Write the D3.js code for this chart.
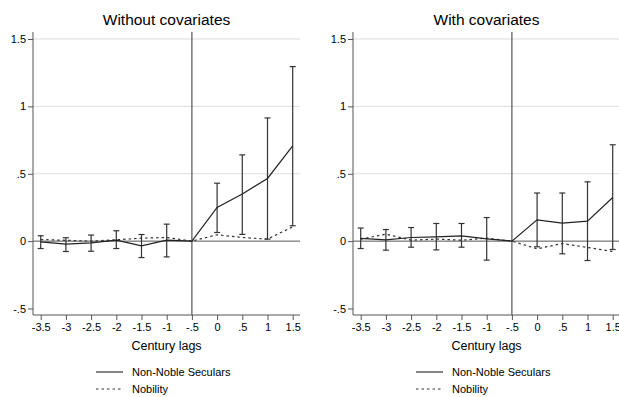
<!DOCTYPE html>
<html><head><meta charset="utf-8">
<script src="https://cdn.jsdelivr.net/npm/d3@7"></script>
<style>body{margin:0;background:#fff}svg{display:block}text{font-family:"Liberation Sans",Arial,sans-serif;fill:#000}</style>
</head><body>
<svg id="c" width="619" height="397"></svg>
<script>
const lags = [-3.5,-3,-2.5,-2,-1.5,-1,-0.5,0,0.5,1,1.5];
const xTicks = [-3.5,-3,-2.5,-2,-1.5,-1,-0.5,0,0.5,1,1.5];
const xTickLabels = ["-3.5","-3","-2.5","-2","-1.5","-1","-.5","0",".5","1","1.5"];
const yTicks = [-0.5,0,0.5,1,1.5];
const yTickLabels = ["-.5","0",".5","1","1.5"];
const titles = ["Without covariates","With covariates"];
const seriesNames = ["Non-Noble Seculars","Nobility"];
// Without covariates
const secNoCov   = [-0.005,-0.022,-0.013,0.007,-0.035,0.007,0,0.25,0.35,0.465,0.707];
const secNoCovLo = [-0.055,-0.077,-0.075,-0.055,-0.122,-0.117,null,0.064,0.05,0.015,0.114];
const secNoCovHi = [0.04,0.025,0.045,0.077,0.049,0.126,null,0.43,0.64,0.914,1.295];
const nobNoCov   = [0.012,0.006,0.0,0.01,0.022,0.027,0,0.047,0.027,0.015,0.106];
// With covariates
const secCov   = [0.02,0.01,0.027,0.032,0.039,0.017,0,0.158,0.134,0.148,0.324];
const secCovLo = [-0.055,-0.067,-0.045,-0.065,-0.045,-0.141,null,-0.042,-0.094,-0.144,-0.062];
const secCovHi = [0.097,0.086,0.101,0.131,0.131,0.175,null,0.357,0.357,0.44,0.715];
const nobCov   = [0.015,0.052,0.007,0.015,0.007,0.022,0,-0.057,-0.018,-0.047,-0.077];

const panels = [
  {title:titles[0], sec:secNoCov, lo:secNoCovLo, hi:secNoCovHi, nob:nobNoCov, off:0},
  {title:titles[1], sec:secCov, lo:secCovLo, hi:secCovHi, nob:nobCov, off:320}
];
const svg = d3.select("#c");
const y = d3.scaleLinear().domain([-0.5,1.5]).range([308.5,39]);
const plotTop = 32, plotBot = 315;

panels.forEach(p => {
  const left = 33 + p.off, right = 300 + p.off;
  const x = d3.scaleLinear().domain([-3.5,1.5]).range([40.7+p.off, 292.7+p.off]);
  const g = svg.append("g");
  g.selectAll("line.grid").data(yTicks.filter(v=>v>0)).join("line")
    .attr("x1",left).attr("x2",right).attr("y1",d=>y(d)).attr("y2",d=>y(d))
    .attr("stroke","#dcdcdc").attr("stroke-width",1);
  g.append("line").attr("x1",left).attr("x2",right).attr("y1",y(0)).attr("y2",y(0))
    .attr("stroke","#555").attr("stroke-width",1);
  g.append("line").attr("x1",x(-0.5)).attr("x2",x(-0.5)).attr("y1",plotTop).attr("y2",plotBot)
    .attr("stroke","#555").attr("stroke-width",1.2);
  const yAxis = d3.axisLeft(y).tickValues(yTicks).tickFormat((d,i)=>yTickLabels[i]).tickSize(5).tickPadding(2);
  const ya = g.append("g").attr("transform",`translate(${left},0)`).call(yAxis);
  ya.select(".domain").attr("d",`M0,${plotTop}V${plotBot}`).attr("stroke","#555");
  const xAxis = d3.axisBottom(x).tickValues(xTicks).tickFormat((d,i)=>xTickLabels[i]).tickSize(5).tickPadding(3);
  const xa = g.append("g").attr("transform",`translate(0,${plotBot})`).call(xAxis);
  xa.select(".domain").attr("d",`M${left},0H${right}`).attr("stroke","#555");
  [ya,xa].forEach(a=>{a.selectAll(".tick line").attr("stroke","#555");
    a.selectAll("text").style("font-family","Liberation Sans, Arial, sans-serif").style("font-size","11px").attr("fill","#000");});
  g.append("text").attr("x",(left+right)/2).attr("y",25).attr("text-anchor","middle")
    .style("font-size","15.5px").text(p.title);
  g.append("text").attr("x",(left+right)/2).attr("y",350).attr("text-anchor","middle")
    .style("font-size","12.5px").text("Century lags");
  const ci = lags.map((l,i)=>({l,lo:p.lo[i],hi:p.hi[i]})).filter(d=>d.lo!==null);
  const cg = g.append("g").attr("stroke","#333").attr("stroke-width",1.2);
  cg.selectAll("line.v").data(ci).join("line").attr("x1",d=>x(d.l)).attr("x2",d=>x(d.l))
    .attr("y1",d=>y(d.lo)).attr("y2",d=>y(d.hi));
  cg.selectAll("line.t").data(ci).join("line").attr("x1",d=>x(d.l)-3).attr("x2",d=>x(d.l)+3)
    .attr("y1",d=>y(d.hi)).attr("y2",d=>y(d.hi));
  cg.selectAll("line.b").data(ci).join("line").attr("x1",d=>x(d.l)-3).attr("x2",d=>x(d.l)+3)
    .attr("y1",d=>y(d.lo)).attr("y2",d=>y(d.lo));
  const line = d3.line().x((d,i)=>x(lags[i])).y(d=>y(d));
  g.append("path").attr("d",line(p.nob)).attr("fill","none").attr("stroke","#333")
    .attr("stroke-width",1.2).attr("stroke-dasharray","2.5,3");
  g.append("path").attr("d",line(p.sec)).attr("fill","none").attr("stroke","#222")
    .attr("stroke-width",1.2);
  const lx = 96 + p.off;
  const lg = g.append("g");
  lg.append("line").attr("x1",lx).attr("x2",lx+27).attr("y1",372).attr("y2",372).attr("stroke","#333").attr("stroke-width",1.2);
  lg.append("line").attr("x1",lx).attr("x2",lx+27).attr("y1",389).attr("y2",389).attr("stroke","#333").attr("stroke-width",1.2).attr("stroke-dasharray","2.5,3");
  lg.append("text").attr("x",lx+36).attr("y",376).style("font-size","11px").text(seriesNames[0]);
  lg.append("text").attr("x",lx+36).attr("y",393).style("font-size","11px").text(seriesNames[1]);
});
</script>
</body></html>
